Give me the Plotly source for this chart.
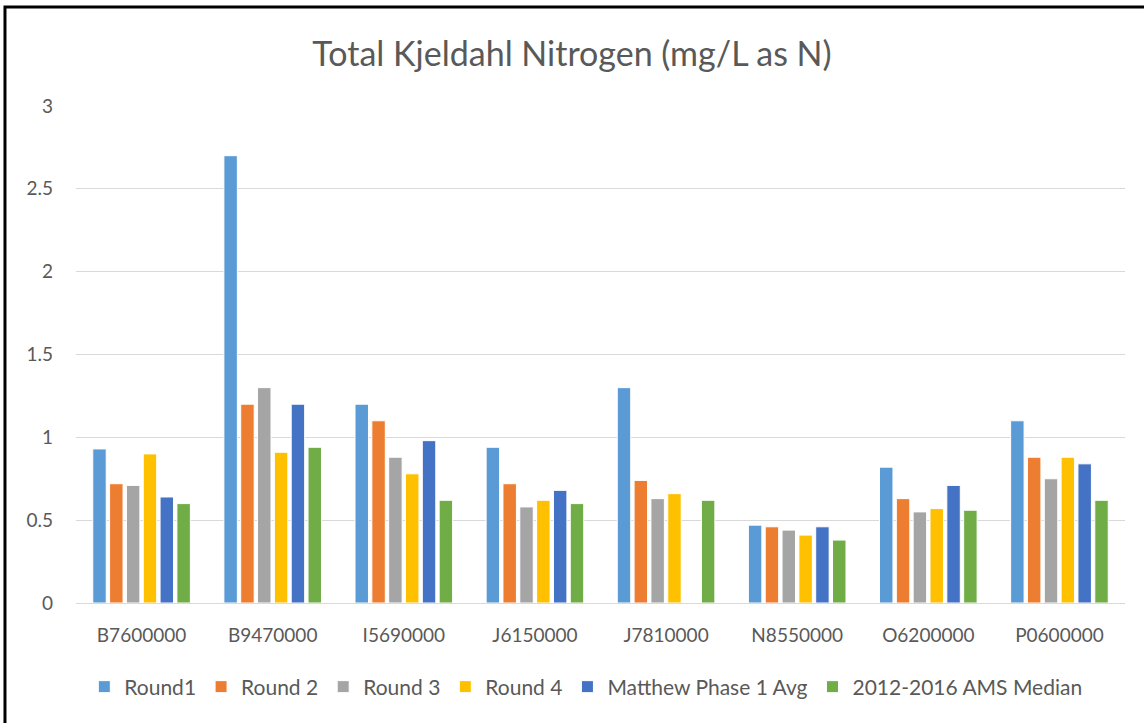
import plotly.graph_objects as go

# --- data ---
stations = ['B7600000', 'B9470000', 'I5690000', 'J6150000',
            'J7810000', 'N8550000', 'O6200000', 'P0600000']

round1 = [0.93, 2.70, 1.20, 0.94, 1.30, 0.47, 0.82, 1.10]
round2 = [0.72, 1.20, 1.10, 0.72, 0.74, 0.46, 0.63, 0.88]
round3 = [0.71, 1.30, 0.88, 0.58, 0.63, 0.44, 0.55, 0.75]
round4 = [0.90, 0.91, 0.78, 0.62, 0.66, 0.41, 0.57, 0.88]
matthew_avg = [0.64, 1.20, 0.98, 0.68, None, 0.46, 0.71, 0.84]
ams_median = [0.60, 0.94, 0.62, 0.60, 0.62, 0.38, 0.56, 0.62]

series = [
    ('Round1', round1, '#5B9BD5'),
    ('Round 2', round2, '#ED7D31'),
    ('Round 3', round3, '#A5A5A5'),
    ('Round 4', round4, '#FFC000'),
    ('Matthew Phase 1 Avg', matthew_avg, '#4472C4'),
    ('2012-2016 AMS Median', ams_median, '#70AD47'),
]

font_family = 'Lato, Carlito, Calibri, sans-serif'
grey_text = '#595959'

fig = go.Figure()
for name, vals, color in series:
    fig.add_trace(go.Bar(x=stations, y=vals, name=name,
                         marker=dict(color=color, line=dict(color='white', width=1))))

fig.update_layout(
    width=1144, height=723,
    margin=dict(l=76, r=19, t=106, b=120),
    paper_bgcolor='white', plot_bgcolor='white',
    barmode='group', bargap=0.23, bargroupgap=0.2,
    font=dict(family=font_family, color=grey_text, size=19),
    title=dict(text='Total Kjeldahl Nitrogen (mg/L as N)', x=0.5, xanchor='center',
               y=0.925, yanchor='middle', font=dict(size=34, color=grey_text)),
    legend=dict(orientation='h', x=0.486, xanchor='center', y=-0.169, yanchor='middle',
                font=dict(size=21, color=grey_text), itemwidth=30, traceorder='normal'),
    showlegend=True,
)

fig.update_yaxes(range=[0, 3], dtick=0.5, showgrid=True, gridcolor='#D9D9D9', gridwidth=1,
                 zeroline=True, zerolinecolor='#D9D9D9', zerolinewidth=1,
                 showline=False, ticks='', ticklabelstandoff=22,
                 tickfont=dict(size=19, color=grey_text))
fig.update_xaxes(showline=True, linecolor='#D9D9D9', linewidth=1, ticks='',
                 ticklabelstandoff=15, tickfont=dict(size=19, color=grey_text))

# outer frame of the chart image (only top and left edges are visible)
fig.add_shape(type='rect', xref='paper', yref='paper',
              x0=-0.0677, x1=1.1, y0=-0.4, y1=1.199,
              line=dict(color='black', width=3), fillcolor='rgba(0,0,0,0)')

# drop the browser's default 8px body margin so the figure sits at the page corner
fig.write_html('out.html', config={'displayModeBar': False},
               post_script="document.body.style.margin='0';")
